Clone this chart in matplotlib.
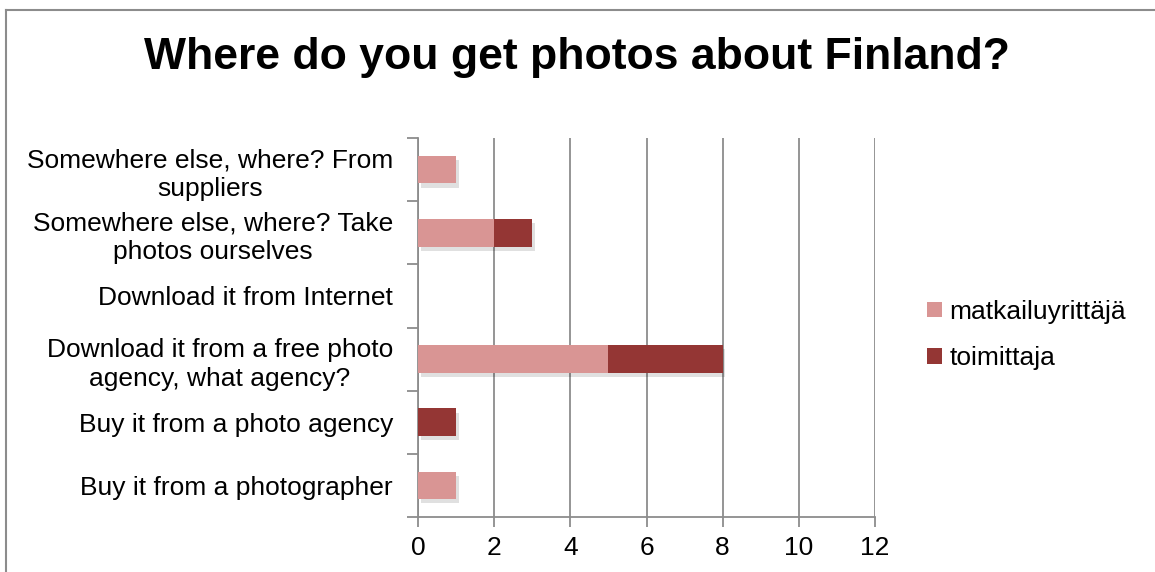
import matplotlib
matplotlib.use("Agg")
import matplotlib.pyplot as plt
import matplotlib.patheffects as pe
from matplotlib.lines import Line2D
from matplotlib.patches import Patch
import numpy as np

categories = [
    "Buy it from a photographer",
    "Buy it from a photo agency",
    "Download it from a free photo\nagency, what agency?",
    "Download it from Internet",
    "Somewhere else, where? Take\nphotos ourselves",
    "Somewhere else, where? From\nsuppliers",
]
matkailuyrittaja = [1, 0, 5, 0, 2, 1]
toimittaja = [0, 1, 3, 0, 1, 0]
series_names = ["matkailuyrittäjä", "toimittaja"]
x_ticks = [0, 2, 4, 6, 8, 10, 12]
title = "Where do you get photos about Finland?"

c_light = "#D99594"
c_dark = "#943634"
grid_c = "#8C8C8C"

plt.rcParams['font.family'] = ['Liberation Sans', 'DejaVu Sans']

W, H = 1155, 572
fig = plt.figure(figsize=(W / 100, H / 100), dpi=100)
ax = fig.add_axes([418 / W, 1 - 517 / H, (875 - 418) / W, (517 - 138) / H])

y = np.arange(len(categories))
shadow = [pe.SimplePatchShadow(offset=(2, -3), shadow_rgbFace="#000000", alpha=0.12), pe.Normal()]
b1 = ax.barh(y, matkailuyrittaja, height=0.44, color=c_light, zorder=3)
b2 = ax.barh(y, toimittaja, left=matkailuyrittaja, height=0.44, color=c_dark, zorder=3)
for b in list(b1) + list(b2):
    if b.get_width() > 0:
        b.set_path_effects(shadow)

ax.set_xlim(0, 12)
ax.set_ylim(-0.5, len(categories) - 0.5)
ax.set_xticks(x_ticks)
ax.set_xticklabels([str(v) for v in x_ticks], fontsize=19)
ax.set_yticks(y)
ax.set_yticklabels(categories, fontsize=19, linespacing=1.27)
ax.set_yticks(np.arange(-0.5, len(categories), 1), minor=True)
ax.tick_params(axis='y', which='major', length=0, pad=18)
ax.tick_params(axis='y', which='minor', length=8, width=1.3, color=grid_c, direction='out')
ax.tick_params(axis='x', which='major', length=7, width=1.3, color=grid_c, direction='out', pad=7)
for lbl in ax.get_yticklabels():
    lbl.set_horizontalalignment('right')
    lbl.set_multialignment('center')

ax.grid(axis='x', color=grid_c, linewidth=1.3, zorder=0)
ax.set_axisbelow(True)
for s in ['top', 'right']:
    ax.spines[s].set_visible(False)
for s in ['left', 'bottom']:
    ax.spines[s].set_color(grid_c)
    ax.spines[s].set_linewidth(1.3)

fig.text(0.5, 1 - 58 / H, title, ha='center', va='center', fontsize=32, fontweight='bold')

handles = [Patch(facecolor=c_light, edgecolor='none'), Patch(facecolor=c_dark, edgecolor='none')]
fig.legend(handles, series_names, loc='center left', bbox_to_anchor=(927 / W, 1 - 335 / H),
           frameon=False, fontsize=19, handlelength=0.55, handleheight=0.55, handletextpad=0.3,
           labelspacing=0.85, borderpad=0, borderaxespad=0)

# chart border
fig.add_artist(Line2D([6 / W, 1], [1 - 10 / H, 1 - 10 / H], color="#8C8C8C", linewidth=1.5,
                      transform=fig.transFigure))
fig.add_artist(Line2D([6 / W, 6 / W], [0, 1 - 10 / H], color="#8C8C8C", linewidth=1.5,
                      transform=fig.transFigure))

fig.savefig("out.png", dpi=100, facecolor='white')
